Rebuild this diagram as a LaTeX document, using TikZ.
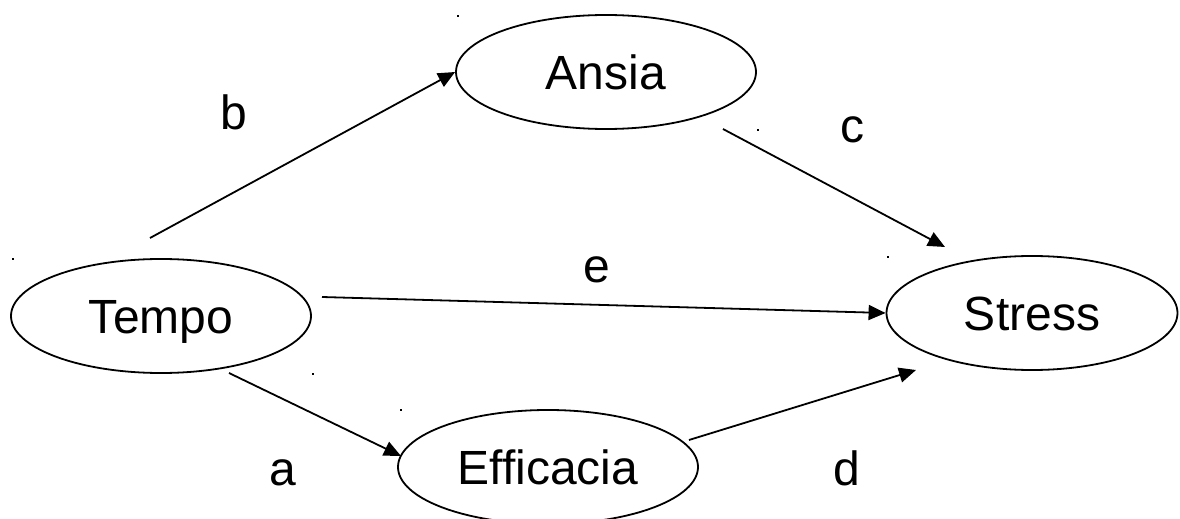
\documentclass[tikz,border=0pt]{standalone}
\usepackage{fontspec}
\setmainfont{Liberation Sans}
\usetikzlibrary{shapes.geometric,arrows.meta}
\begin{document}
\begin{tikzpicture}[x=0.5pt,y=-0.5pt,
  ell/.style={draw,ellipse,line width=0.9pt,minimum width=150pt,minimum height=57pt,inner sep=0pt,
    font=\fontsize{24}{28}\selectfont,text height=17.2pt,text depth=0pt},
  lbl/.style={font=\fontsize{24}{28}\selectfont,anchor=base,inner sep=0pt},
  arr/.style={line width=0.9pt,-{Triangle[length=8.5pt,width=7.5pt]}},
  speck/.style={fill=black}]
\useasboundingbox (0,0) rectangle (1180,519);
\clip (0,0) rectangle (1180,519);
\node[ell] (ansia) at (606,72) {Ansia};
\node[ell] (tempo) at (161,316) {Tempo};
\node[ell,minimum width=145.5pt] (stress) at (1032,313) {Stress};
\node[ell] (eff) at (548,467) {Efficacia};
\draw[arr] ([shift={(-11,-78)}]tempo.center) -- (ansia.west);
\draw[arr] ([shift={(117,57)}]ansia.center) -- ([shift={(-87,-66)}]stress.center);
\draw[arr] ([shift={(161,-19)}]tempo.center) -- (stress.west);
\draw[arr] ([shift={(68,57)}]tempo.center) -- ([shift={(-147,-11)}]eff.center);
\draw[arr] ([shift={(141,-27)}]eff.center) -- ([shift={(-116,57)}]stress.center);
\node[lbl] (lb) at (234,130) {b};
\node[lbl] (lc) at (852,143) {c};
\node[lbl] (le) at (597,283) {e};
\node[lbl] (la) at (283,485) {a};
\node[lbl] (ld) at (847,485) {d};
\foreach \p in {(457,15),(757,129),(12,258),(312,373),(887,256),(400,409)}
  \fill[speck] \p rectangle ++(2,2);
\end{tikzpicture}
\end{document}
